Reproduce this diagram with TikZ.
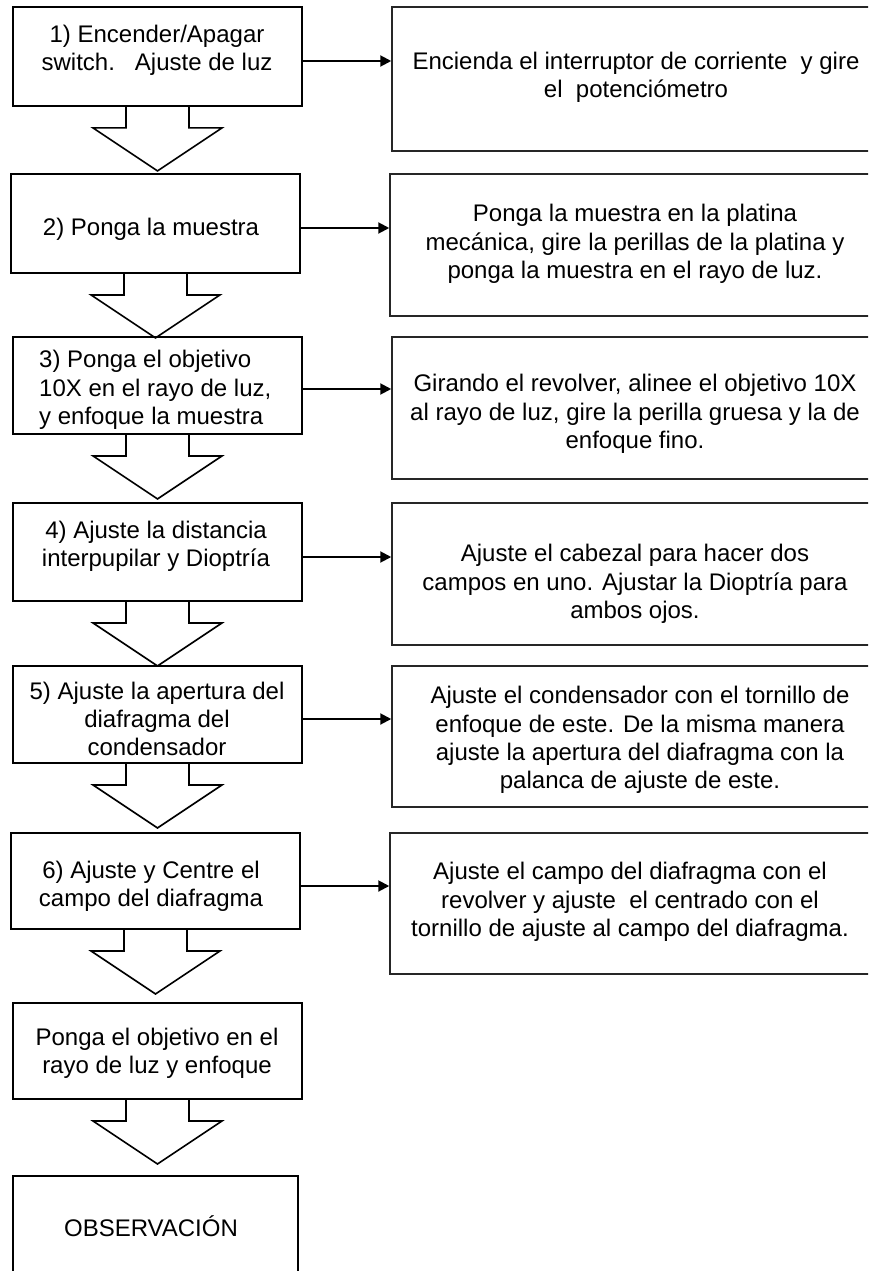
\documentclass[tikz,border=0pt]{standalone}
\usepackage{fontspec}
\setmainfont{Liberation Sans}
\usetikzlibrary{arrows.meta,calc}
\tikzset{
  lbox/.style={draw=black, line width=1.9pt, fill=white, inner sep=0pt},
  rbox/.style={draw=black!85, line width=1.5pt, fill=white, inner sep=0pt},
  txt/.style={inner sep=0pt, align=center, font=\fontsize{24}{28.3}\selectfont},
  harrow/.style={line width=2pt, -{Triangle[length=11pt,width=11pt]}},
  blockarrow/.style={draw=black, line width=1.6pt, line join=miter}
}
\newcommand{\blockdown}[1]{% #1 = box name
  \draw[blockarrow] ($(#1.south)+(-31.5,0)$) -- ++(0,21) -- ++(-33,0) -- ++(64.5,43) -- ++(64.5,-43) -- ++(-33,0) -- ++(0,-21);
}
\begin{document}
\begin{tikzpicture}[x=1pt,y=-1pt]
\useasboundingbox (0,0) rectangle (868,1271);
\clip (0,0) rectangle (868,1271);
% left boxes
\node[lbox, minimum width=289, minimum height=99] (b1) at (157.5,56.5) {};
\node[lbox, minimum width=289, minimum height=99] (b2) at (155.5,223.5) {};
\node[lbox, minimum width=289, minimum height=97] (b3) at (157.5,385.5) {};
\node[lbox, minimum width=289, minimum height=98] (b4) at (157.5,552) {};
\node[lbox, minimum width=289, minimum height=97] (b5) at (157.5,714.5) {};
\node[lbox, minimum width=289, minimum height=96] (b6) at (155.5,881) {};
\node[lbox, minimum width=289, minimum height=96] (b7) at (157.5,1051) {};
\node[lbox, minimum width=285, minimum height=140] (b8) at (155.5,1246) {};
% right boxes (extend beyond the right edge)
\node[rbox, minimum width=490, minimum height=144] (r1) at (637,79) {};
\node[rbox, minimum width=492, minimum height=142] (r2) at (636,245) {};
\node[rbox, minimum width=490, minimum height=142] (r3) at (637,408) {};
\node[rbox, minimum width=490, minimum height=142] (r4) at (637,574) {};
\node[rbox, minimum width=490, minimum height=141] (r5) at (637,736.5) {};
\node[rbox, minimum width=492, minimum height=141] (r6) at (636,903.5) {};
% texts left
\node[txt] (t1) at (157,50) {1) Encender/Apagar\\switch.\ \ \ Ajuste de luz};
\node[txt] (t2) at (151,229) {2) Ponga la muestra};
\node[txt, anchor=west, align=left] (t3) at (39,390) {3) Ponga el objetivo\\10X en el rayo de luz,\\y enfoque la muestra};
\node[txt] (t4) at (156,546) {4) Ajuste la distancia\\interpupilar y Dioptría};
\node[txt] (t5) at (157,719) {5) Ajuste la apertura del\\diafragma del\\condensador};
\node[txt] (t6) at (151,886) {6) Ajuste y Centre el\\campo del diafragma};
\node[txt] (t7) at (157,1053) {Ponga el objetivo en el\\rayo de luz y enfoque};
\node[txt] (t8) at (151,1226) {OBSERVACIÓN};
% texts right
\node[txt] (u1) at (636,77) {Encienda el interruptor de corriente\ \ y gire\\el\ \ potenciómetro};
\node[txt] (u2) at (635,244) {Ponga la muestra en la platina\\mecánica, gire la perillas de la platina y\\ponga la muestra en el rayo de luz.};
\node[txt] (u3) at (635,414) {Girando el revolver, alinee el objetivo 10X\\al rayo de luz, gire la perilla gruesa y la de\\enfoque fino.};
\node[txt] (u4) at (635,584) {Ajuste el cabezal para hacer dos\\campos en uno. Ajustar la Dioptría para\\ambos ojos.};
\node[txt] (u5) at (640,740) {Ajuste el condensador con el tornillo de\\enfoque de este. De la misma manera\\ajuste la apertura del diafragma con la\\palanca de ajuste de este.};
\node[txt] (u6) at (630,902) {Ajuste el campo del diafragma con el\\revolver y ajuste\ \ el centrado con el\\tornillo de ajuste al campo del diafragma.};
% horizontal arrows
\draw[harrow] (b1.east |- 0,61) -- (r1.west |- 0,61);
\draw[harrow] (b2.east |- 0,228) -- (r2.west |- 0,228);
\draw[harrow] (b3.east |- 0,389) -- (r3.west |- 0,389);
\draw[harrow] (b4.east |- 0,557) -- (r4.west |- 0,557);
\draw[harrow] (b5.east |- 0,719) -- (r5.west |- 0,719);
\draw[harrow] (b6.east |- 0,886) -- (r6.west |- 0,886);
% block arrows
\blockdown{b1}
\blockdown{b2}
\blockdown{b3}
\blockdown{b4}
\blockdown{b5}
\blockdown{b6}
\blockdown{b7}
\end{tikzpicture}
\end{document}
